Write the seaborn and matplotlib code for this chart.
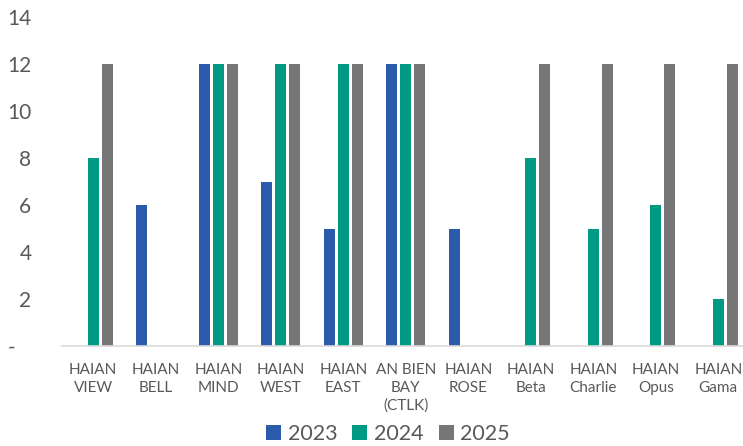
import matplotlib
matplotlib.use("Agg")
import matplotlib.pyplot as plt
import seaborn as sns
import pandas as pd

categories = ["HAIAN\nVIEW", "HAIAN\nBELL", "HAIAN\nMIND", "HAIAN\nWEST", "HAIAN\nEAST",
              "AN BIEN\nBAY\n(CTLK)", "HAIAN\nROSE", "HAIAN\nBeta", "HAIAN\nCharlie",
              "HAIAN\nOpus", "HAIAN\nGama"]
years = ["2023", "2024", "2025"]
v2023 = [0, 6, 12, 7, 5, 12, 5, 0, 0, 0, 0]
v2024 = [8, 0, 12, 12, 12, 12, 0, 8, 5, 6, 2]
v2025 = [12, 0, 12, 12, 12, 12, 0, 12, 12, 12, 12]
yticks = [0, 2, 4, 6, 8, 10, 12, 14]
ytick_labels = ["-   ", "2", "4", "6", "8", "10", "12", "14"]
colors = ["#2B5BAA", "#009A84", "#767676"]

rows = []
for yr, vals in zip(years, [v2023, v2024, v2025]):
    for c, v in zip(categories, vals):
        rows.append({"cat": c, "year": yr, "value": v})
df = pd.DataFrame(rows)

sns.set_style("white")
plt.rcParams["font.family"] = ["Lato", "DejaVu Sans"]

fig = plt.figure(figsize=(7.43, 4.46), dpi=100)
ax = fig.add_axes([62 / 743, 1 - 346 / 446, 687.5 / 743, (346 - 17) / 446])
sns.barplot(data=df, x="cat", y="value", hue="year", order=categories, hue_order=years,
            palette=colors, width=0.67, gap=0.2, linewidth=0, saturation=1, ax=ax,
            errorbar=None)
ax.set_xlim(-0.5, 10.5)
ax.set_ylim(0, 14)
ax.set_yticks(yticks)
ax.set_yticklabels(ytick_labels)
ax.set_xlabel("")
ax.set_ylabel("")
for s in ["top", "right", "left"]:
    ax.spines[s].set_visible(False)
ax.spines["bottom"].set_color("#D9D9D9")
ax.spines["bottom"].set_linewidth(1.2)
ax.tick_params(axis="y", length=0, labelsize=15, labelcolor="#595959", pad=22)
ax.tick_params(axis="x", length=0, labelsize=11, labelcolor="#595959", pad=12)
for t in ax.get_xticklabels():
    t.set_linespacing(1.35)
ax.grid(False)

handles, labels = ax.get_legend_handles_labels()
ax.get_legend().remove()
fig.legend(handles, labels, loc="center", bbox_to_anchor=(388 / 743, 1 - 434 / 446), ncol=3,
           frameon=False, fontsize=15.5, labelcolor="#595959", handlelength=0.7,
           handleheight=0.7, handletextpad=0.3, columnspacing=0.7)

fig.savefig("out.png", dpi=100)
